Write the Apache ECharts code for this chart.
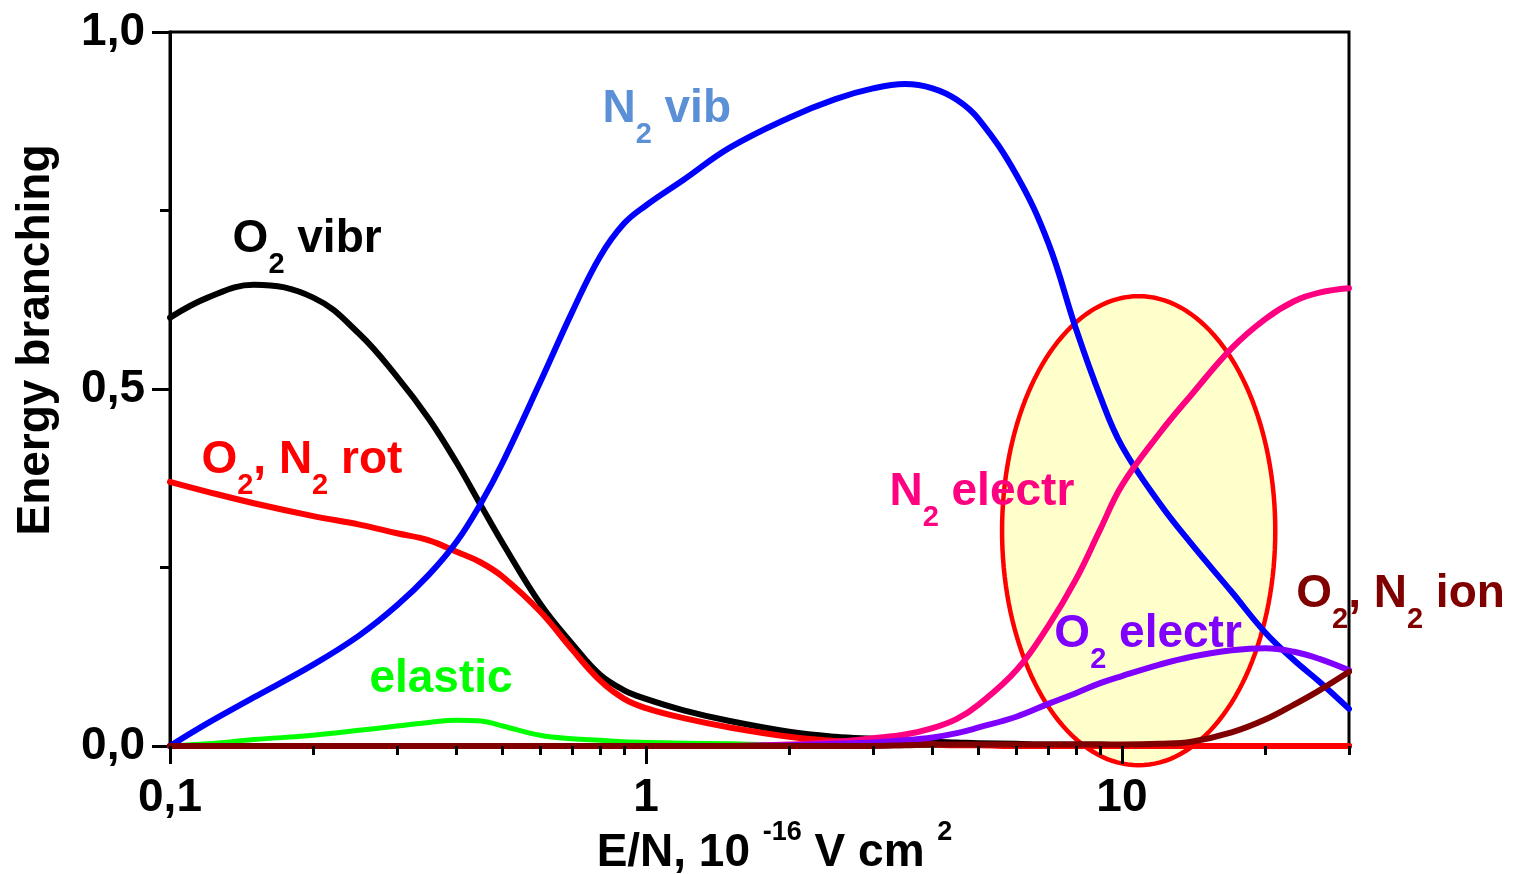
<!DOCTYPE html>
<html><head><meta charset="utf-8">
<script src="https://cdn.jsdelivr.net/npm/echarts@6/dist/echarts.min.js"></script>
<style>html,body{margin:0;padding:0;background:#fff}#c{width:1526px;height:874px}</style>
</head><body><div id="c"></div>
<script>
// ---- data ----
const E_N      = [0.1,0.12,0.15,0.2,0.25,0.3,0.35,0.4,0.45,0.5,0.6,0.7,0.8,0.9,1,1.2,1.5,2,2.5,3,3.5,4,4.5,5,6,7,8,9,10,12,14,17,20,23,26,30];
const N2_VIB   = [0,0.032,0.068,0.114,0.155,0.197,0.240,0.286,0.340,0.397,0.510,0.608,0.685,0.732,0.757,0.793,0.838,0.880,0.906,0.921,0.927,0.921,0.905,0.878,0.800,0.705,0.585,0.490,0.420,0.340,0.283,0.216,0.159,0.120,0.090,0.052];
const O2_VIBR  = [0.600,0.628,0.646,0.628,0.577,0.517,0.458,0.397,0.337,0.284,0.199,0.143,0.100,0.078,0.066,0.050,0.035,0.020,0.013,0.010,0.008,0.006,0.005,0.004,0.003,0.002,0.002,0.002,0.001,0.001,0,0,0,0,0,0];
const ROT      = [0.370,0.356,0.340,0.322,0.310,0.298,0.288,0.272,0.257,0.237,0.188,0.135,0.092,0.066,0.053,0.039,0.026,0.013,0.007,0.004,0.003,0.002,0.001,0.001,0,0,0,0,0,0,0,0,0,0,0,0];
const ELASTIC  = [0,0.003,0.009,0.015,0.022,0.028,0.033,0.036,0.035,0.028,0.015,0.010,0.008,0.006,0.005,0.004,0.003,0.002,0.002,0.001,0.001,0.001,0.001,0.001,0.001,0.001,0.001,0.001,0.001,0,0,0,0,0,0,0];
const N2_ELECTR= [0,0,0,0,0,0,0,0,0,0,0,0,0,0,0,0,0,0.002,0.006,0.011,0.016,0.025,0.038,0.058,0.106,0.168,0.233,0.303,0.365,0.438,0.492,0.557,0.598,0.623,0.635,0.641];
const O2_ELECTR= [0,0,0,0,0,0,0,0,0,0,0,0,0,0,0,0,0,0.001,0.003,0.005,0.008,0.012,0.018,0.026,0.041,0.059,0.074,0.088,0.098,0.114,0.125,0.134,0.137,0.132,0.122,0.106];
const ION      = [0,0,0,0,0,0,0,0,0,0,0,0,0,0,0,0,0,0,0,0,0.001,0.002,0.002,0.002,0.002,0.002,0.002,0.002,0.002,0.003,0.006,0.019,0.037,0.058,0.078,0.104];

const X_RANGE = [0.1, 30];
const Y_RANGE = [0, 1];
const Y_INTERVAL = 0.5;
const X_MAJOR_TICKS = [0.1, 1, 10];
const X_MINOR_TICKS = [0.2,0.3,0.4,0.5,0.6,0.7,0.8,0.9,2,3,4,5,6,7,8,9,20,30];

// annotation labels (left/top anchor in data units)
const LABEL_TEXT  = ['{m|N}{s|2}{m| vib}','{m|O}{s|2}{m| vibr}','{m|O}{s|2}{m|, N}{s|2}{m| rot}','{m|elastic}','{m|N}{s|2}{m| electr}','{m|O}{s|2}{m| electr}','{m|O}{s|2}{m|, N}{s|2}{m| ion}'];
const LABEL_X     = [0.812, 0.1357, 0.1167, 0.263, 3.255, 7.23, 23.3];
const LABEL_Y     = [0.923, 0.741, 0.431, 0.125, 0.387, 0.188, 0.244];
const LABEL_COLOR = ['#5b8fd6','#000000','#ff0000','#00ff00','#ff0080','#8000ff','#800000'];

// highlighted ellipse region (data units)
const ELLIPSE_X = [5.6, 21.0];
const ELLIPSE_Y = [-0.027, 0.63];

const FONT = "'Liberation Sans', Arial, Helvetica, sans-serif";

function richFor(c) {
  return {
    m: {fontSize: 46, fontWeight: 'bold', fontFamily: FONT, color: c, opacity: 1, padding: [0,0,17,0], lineHeight: 63, verticalAlign: 'top'},
    s: {fontSize: 29, fontWeight: 'bold', fontFamily: FONT, color: c, opacity: 1, lineHeight: 63, verticalAlign: 'bottom'}
  };
}
function lineSeries(arr, color, width) {
  return {
    type: 'line', data: E_N.map((x, i) => [x, arr[i]]), showSymbol: false, symbol: 'none',
    smooth: 0.4, silent: true, z: 3,
    lineStyle: {color: color, width: width, opacity: 1, join: 'round', cap: 'round'}
  };
}
const tickStyle = {color: '#000', width: 3};

const chart = echarts.init(document.getElementById('c'), null, {renderer: 'canvas'});
chart.setOption({
  animation: false,
  backgroundColor: '#fff',
  grid: {left: 170, right: 177, top: 32, bottom: 128, containLabel: false, outerBoundsMode: 'none',
         show: true, borderColor: '#000', borderWidth: 3, backgroundColor: 'transparent'},
  xAxis: [
    {
      type: 'log', logBase: 10, min: X_RANGE[0], max: X_RANGE[1], position: 'bottom',
      axisLine: {show: true, onZero: false, lineStyle: tickStyle},
      axisTick: {show: false}, minorTick: {show: false}, splitLine: {show: false},
      axisLabel: {margin: 29, fontSize: 46, fontWeight: 'bold', fontFamily: FONT, color: '#000',
                  showMaxLabel: false, formatter: v => String(v).replace('.', ',')},
      name: '{m|E/N, 10 }{s|-16}{m| V cm }{s|2}', nameLocation: 'middle', nameGap: 73, nameMoveOverlap: false,
      nameTextStyle: {padding: [0,0,0,30], rich: {
        m: {fontSize: 46, fontWeight: 'bold', fontFamily: FONT, color: '#000', padding: [11,0,0,0], lineHeight: 57, verticalAlign: 'top'},
        s: {fontSize: 27, fontWeight: 'bold', fontFamily: FONT, color: '#000', lineHeight: 57, verticalAlign: 'top'}
      }}
    },
    {
      type: 'value', min: Math.log10(X_RANGE[0]), max: Math.log10(X_RANGE[1]), position: 'bottom', z: 6,
      axisLine: {show: false, onZero: false}, axisLabel: {show: false}, splitLine: {show: false},
      axisTick: {show: true, length: 18, customValues: X_MAJOR_TICKS.map(Math.log10), lineStyle: tickStyle}
    },
    {
      type: 'value', min: Math.log10(X_RANGE[0]), max: Math.log10(X_RANGE[1]), position: 'bottom', z: 6,
      axisLine: {show: false, onZero: false}, axisLabel: {show: false}, splitLine: {show: false},
      axisTick: {show: true, length: 9, customValues: X_MINOR_TICKS.map(Math.log10), lineStyle: tickStyle}
    }
  ],
  yAxis: {
    type: 'value', min: Y_RANGE[0], max: Y_RANGE[1], interval: Y_INTERVAL,
    axisLine: {show: true, onZero: false, lineStyle: tickStyle},
    axisTick: {show: true, length: 18, lineStyle: tickStyle},
    minorTick: {show: true, splitNumber: 2, length: 10, lineStyle: tickStyle},
    splitLine: {show: false}, minorSplitLine: {show: false},
    axisLabel: {margin: 25, fontSize: 46, fontWeight: 'bold', fontFamily: FONT, color: '#000',
                formatter: v => v.toFixed(1).replace('.', ',')},
    name: 'Energy branching', nameLocation: 'middle', nameGap: 111, nameRotate: 90, nameMoveOverlap: false,
    nameTextStyle: {fontSize: 46, fontWeight: 'bold', fontFamily: FONT, color: '#000', padding: [0,0,0,98]}
  },
  series: [
    {
      type: 'custom', z: 1, silent: true, clip: false,
      data: [[Math.sqrt(ELLIPSE_X[0] * ELLIPSE_X[1]), (ELLIPSE_Y[0] + ELLIPSE_Y[1]) / 2]],
      encode: {x: 0, y: 1},
      renderItem: function (params, api) {
        const a = api.coord([ELLIPSE_X[0], ELLIPSE_Y[0]]);
        const b = api.coord([ELLIPSE_X[1], ELLIPSE_Y[1]]);
        const cx = (a[0] + b[0]) / 2, cy = (a[1] + b[1]) / 2;
        const rx = Math.abs(b[0] - a[0]) / 2, ry = Math.abs(b[1] - a[1]) / 2;
        const pts = [];
        for (let k = 0; k < 160; k++) {
          const t = 2 * Math.PI * k / 160;
          pts.push([cx + rx * Math.cos(t), cy + ry * Math.sin(t)]);
        }
        return {type: 'polygon', shape: {points: pts}, style: {fill: '#ffffcc', stroke: '#ff0000', lineWidth: 4.5}};
      }
    },
    lineSeries(ELASTIC, '#00ff00', 5),
    lineSeries(O2_VIBR, '#000000', 6),
    lineSeries(ROT, '#ff0000', 6),
    lineSeries(N2_VIB, '#0000ff', 6),
    lineSeries(N2_ELECTR, '#ff0080', 6),
    lineSeries(O2_ELECTR, '#8000ff', 6),
    lineSeries(ION, '#800000', 6),
    {
      type: 'scatter', z: 10, silent: true, clip: false, symbolSize: 1,
      itemStyle: {color: 'transparent', opacity: 1},
      data: LABEL_TEXT.map((t, i) => ({
        value: [LABEL_X[i], LABEL_Y[i]],
        label: {show: true, position: [0, 0], align: 'left', verticalAlign: 'top', opacity: 1,
                formatter: t, color: LABEL_COLOR[i], rich: richFor(LABEL_COLOR[i])}
      }))
    }
  ]
});
</script>
</body></html>
